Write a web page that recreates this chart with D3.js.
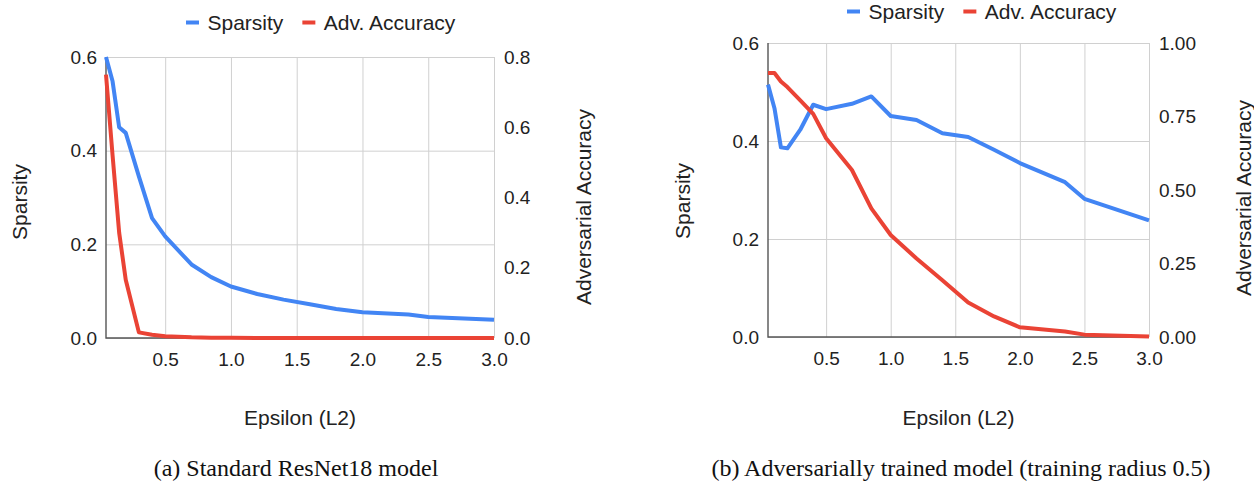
<!DOCTYPE html>
<html>
<head>
<meta charset="utf-8">
<script src="https://cdn.jsdelivr.net/npm/d3@7"></script>
<style>
  body { margin: 0; background: #fff; }
  svg { display: block; font-family: "Liberation Sans", Arial, sans-serif; }
</style>
</head>
<body>
<div id="chart"></div>
<script>
// data
const epsilon = [0.05, 0.1, 0.15, 0.2, 0.3, 0.4, 0.5, 0.7, 0.85, 1.0, 1.2, 1.4, 1.6, 1.8, 2.0, 2.35, 2.5, 3.0];

// (a) standard ResNet18
const sparsityStd = [0.6, 0.548, 0.45, 0.438, 0.345, 0.256, 0.217, 0.157, 0.130, 0.110, 0.094, 0.082, 0.072, 0.062, 0.055, 0.050, 0.045, 0.039];
const advAccStd = [0.75, 0.52, 0.30, 0.166, 0.016, 0.009, 0.005, 0.002, 0.001, 0.0005, 0, 0, 0, 0, 0, 0, 0, 0];

// (b) adversarially trained
const sparsityAdv = [0.515, 0.467, 0.387, 0.385, 0.423, 0.474, 0.465, 0.476, 0.491, 0.451, 0.443, 0.416, 0.408, 0.382, 0.355, 0.316, 0.282, 0.238];
const advAccAdv = [0.898, 0.898, 0.869, 0.85, 0.805, 0.759, 0.676, 0.568, 0.4375, 0.347, 0.267, 0.193, 0.117, 0.07, 0.033, 0.019, 0.008, 0.002];

// tick labels
const epsTicks = [0.5, 1.0, 1.5, 2.0, 2.5, 3.0];
const sparsityTicks = [0, 0.2, 0.4, 0.6];
const accTicksStd = [0, 0.2, 0.4, 0.6, 0.8];
const accTicksAdv = [0, 0.25, 0.5, 0.75, 1.0];

const seriesNames = ["Sparsity", "Adv. Accuracy"];
const seriesColors = ["#4285F4", "#EA4335"];
const captions = ["(a) Standard ResNet18 model", "(b) Adversarially trained model (training radius 0.5)"];

var svg = d3.select("#chart").append("svg")
  .attr("width", 1254)
  .attr("height", 490);

function drawPanel(cfg) {
  var x = d3.scaleLinear().domain([0.05, 3.0]).range([cfg.x0, cfg.x1]);
  var yL = d3.scaleLinear().domain([0, 0.6]).range([cfg.y1, cfg.y0]);
  var yR = d3.scaleLinear().domain([0, cfg.accMax]).range([cfg.y1, cfg.y0]);
  var h = cfg.y1 - cfg.y0;
  var w = cfg.x1 - cfg.x0;

  // vertical grid + x tick labels
  var gx = svg.append("g")
    .attr("transform", "translate(0," + cfg.y1 + ")")
    .call(d3.axisBottom(x).tickValues(epsTicks).tickSize(-h).tickPadding(15).tickFormat(d3.format(".1f")));
  gx.select(".domain").remove();
  gx.selectAll("line").attr("stroke", "#d0d0d0");
  gx.selectAll("text").style("font-size", "19px").attr("fill", "#222");

  // horizontal grid + left tick labels
  var gy = svg.append("g")
    .attr("transform", "translate(" + cfg.x0 + ",0)")
    .call(d3.axisLeft(yL).tickValues(sparsityTicks).tickSize(-w).tickPadding(9).tickFormat(d3.format(".1f")));
  gy.select(".domain").remove();
  gy.selectAll("line").attr("stroke", "#d0d0d0");
  gy.selectAll("text").style("font-size", "19px").attr("fill", "#222");

  // right tick labels
  var gr = svg.append("g")
    .attr("transform", "translate(" + cfg.x1 + ",0)")
    .call(d3.axisRight(yR).tickValues(cfg.accTicks).tickSize(0).tickPadding(10).tickFormat(d3.format(cfg.accFmt)));
  gr.select(".domain").remove();
  gr.selectAll("text").style("font-size", "19px").attr("fill", "#222");

  // dark axis lines (left + baseline)
  svg.append("path")
    .attr("d", "M" + cfg.x0 + "," + cfg.y0 + "V" + cfg.y1 + "H" + cfg.x1)
    .attr("fill", "none")
    .attr("stroke", "#555")
    .attr("stroke-width", 1.4);

  // series
  var lineL = d3.line().x((d, i) => x(epsilon[i])).y(d => yL(d));
  var lineR = d3.line().x((d, i) => x(epsilon[i])).y(d => yR(d));

  svg.append("path")
    .datum(cfg.sparsity)
    .attr("d", lineL)
    .attr("fill", "none")
    .attr("stroke", seriesColors[0])
    .attr("stroke-width", 4)
    .attr("stroke-linejoin", "round");

  svg.append("path")
    .datum(cfg.acc)
    .attr("d", lineR)
    .attr("fill", "none")
    .attr("stroke", seriesColors[1])
    .attr("stroke-width", 4)
    .attr("stroke-linejoin", "round");

  // legend
  var lx = cfg.x0 + cfg.legendDx;
  seriesNames.forEach(function (name, i) {
    svg.append("rect")
      .attr("x", lx)
      .attr("y", cfg.legendY - 9.5)
      .attr("width", 13)
      .attr("height", 4)
      .attr("fill", seriesColors[i]);
    var t = svg.append("text")
      .attr("x", lx + 21.5)
      .attr("y", cfg.legendY)
      .style("font-size", "21px")
      .attr("fill", "#222")
      .text(name);
    lx = lx + 21.5 + t.node().getComputedTextLength() + 19;
  });

  // axis titles
  svg.append("text")
    .attr("transform", "translate(" + (cfg.x0 - cfg.leftTitleDx) + "," + cfg.leftTitleY + ") rotate(-90)")
    .attr("text-anchor", "middle")
    .attr("dominant-baseline", "central")
    .style("font-size", "21px")
    .attr("fill", "#222")
    .text("Sparsity");

  svg.append("text")
    .attr("transform", "translate(" + (cfg.x1 + cfg.rightTitleDx) + "," + cfg.rightTitleY + ") rotate(-90)")
    .attr("text-anchor", "middle")
    .attr("dominant-baseline", "central")
    .style("font-size", "21px")
    .attr("fill", "#222")
    .text("Adversarial Accuracy");

  svg.append("text")
    .attr("x", (cfg.x0 + cfg.x1) / 2)
    .attr("y", 424.5)
    .attr("text-anchor", "middle")
    .style("font-size", "21px")
    .attr("fill", "#222")
    .text("Epsilon (L2)");

  svg.append("text")
    .attr("x", cfg.captionX)
    .attr("y", 476)
    .attr("text-anchor", "middle")
    .style("font-family", "'Liberation Serif', 'Times New Roman', serif")
    .style("font-size", "24px")
    .attr("fill", "#111")
    .text(cfg.caption);
}

drawPanel({
  x0: 106, x1: 494, y0: 57, y1: 338,
  accMax: 0.8, accTicks: accTicksStd, accFmt: ".1f",
  sparsity: sparsityStd, acc: advAccStd,
  legendDx: 80, legendY: 30,
  leftTitleDx: 87, leftTitleY: 202,
  rightTitleDx: 89, rightTitleY: 207,
  captionX: 296, caption: captions[0]
});

drawPanel({
  x0: 768, x1: 1149, y0: 43, y1: 337,
  accMax: 1.0, accTicks: accTicksAdv, accFmt: ".2f",
  sparsity: sparsityAdv, acc: advAccAdv,
  legendDx: 79, legendY: 19,
  leftTitleDx: 86, leftTitleY: 201,
  rightTitleDx: 94, rightTitleY: 198,
  captionX: 961, caption: captions[1]
});
</script>
</body>
</html>
